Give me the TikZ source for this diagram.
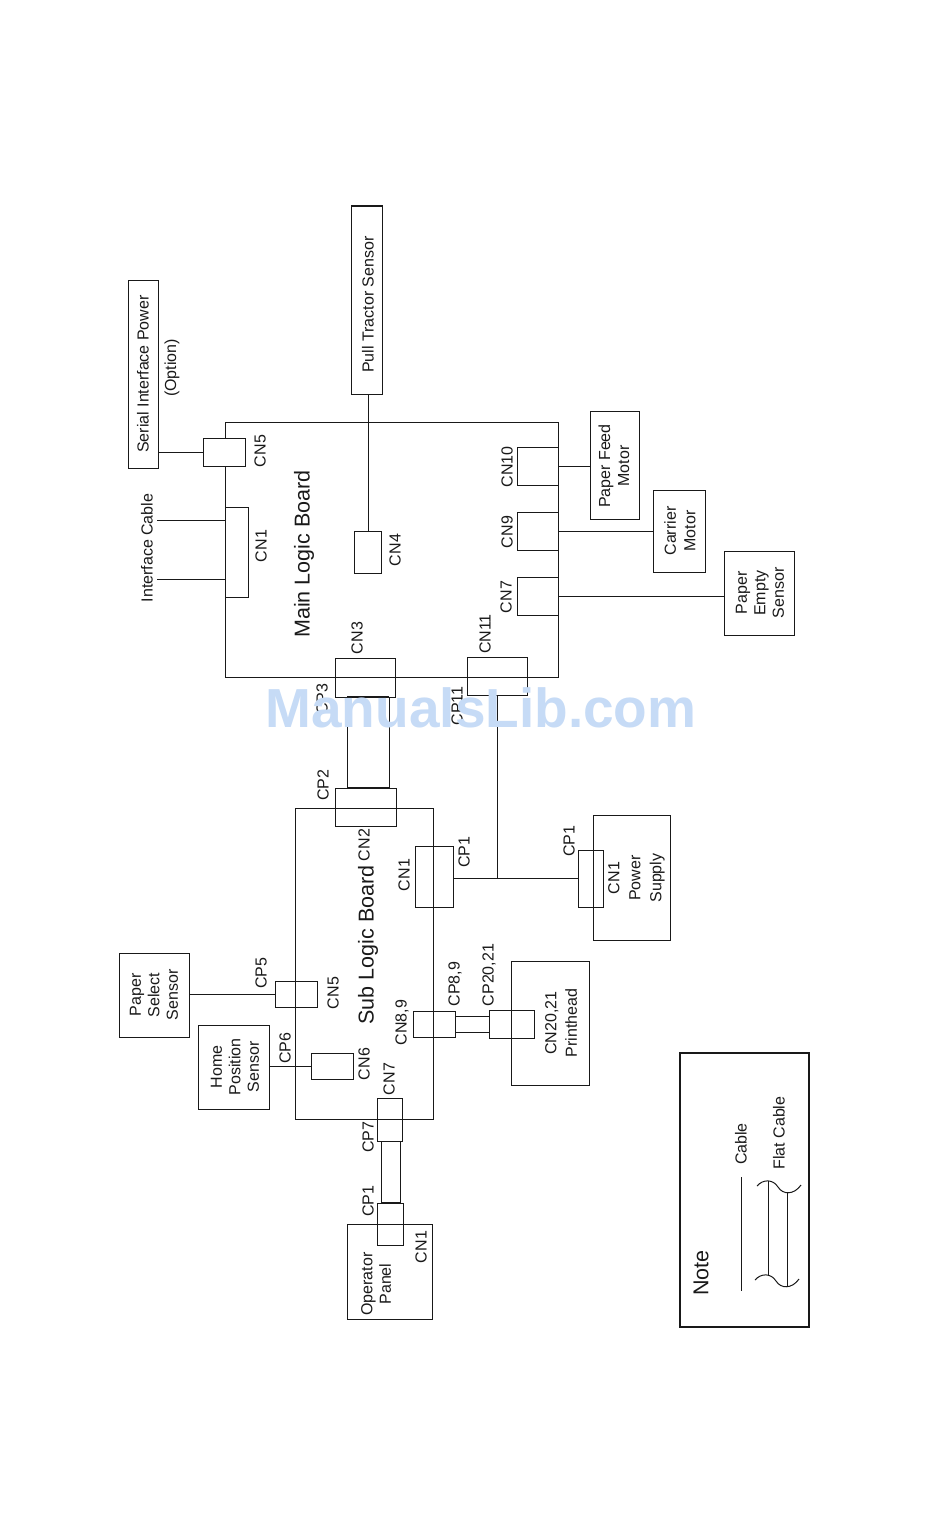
\documentclass[tikz,border=0pt]{standalone}
\usepackage{fontspec}
\setmainfont{Liberation Sans}
\definecolor{wm}{HTML}{C6DBF6}
\newcommand\bx[6][]{\node[boxn,#1,minimum width={(#4-#2)*1pt},minimum height={(#5-#3)*1pt},anchor=north west] (#6) at (#2,#3) {};}
\newcommand\lb[4][]{\node[lab,#1] (#2) at (#3) {#4};}
\begin{document}
\begin{tikzpicture}[x=1pt,y=-1pt,
 boxn/.style={draw=black!90,line width=1pt,inner sep=0pt,outer sep=0pt},
 lab/.style={rotate=90,font=\fontsize{16}{18.5}\selectfont,text=black!90,align=center,inner sep=0pt},
 big/.style={font=\fontsize{21.5}{24}\selectfont},
 wire/.style={draw=black!90,line width=1pt},
 flat/.style={draw=black!90,line width=1pt}]
\useasboundingbox (0,0) rectangle (950,1525);
\fill[white] (0,0) rectangle (950,1525);
% boxes
\bx{128.5}{280}{158.5}{468}{serial}
\bx{351.5}{206}{382}{394}{pull}
\bx{225}{422}{558}{677}{main}
\bx[fill=white]{203}{438}{245}{466}{mcnv}
\bx{225}{507}{248}{597}{mcna}
\bx{354}{531}{381}{573}{mcnb}
\bx{517}{447}{558}{485}{mcnj}
\bx{517}{512}{558}{550}{mcni}
\bx{517}{577}{558}{615}{mcnh}
\bx{590}{411}{639}{519}{feed}
\bx{653}{490}{705}{572}{carrier}
\bx{724}{551}{794}{635}{empty}
\bx{335}{658}{395}{697}{mcnc}
\bx{467}{657}{527}{695}{mcnk}
\bx{295}{808}{433}{1119}{sub}
\bx{335}{788}{396}{826}{scp}
\bx{415}{846}{453}{907}{scna}
\bx{593}{815}{670}{940}{power}
\bx{578}{850}{603}{907}{pcn}
\bx{119}{953}{189}{1037}{select}
\bx{275}{981}{317}{1007}{scne}
\bx{198}{1025}{269}{1109}{home}
\bx{311}{1053}{353}{1079}{scnf}
\bx{413}{1011}{455}{1037}{scnh}
\bx{511}{961}{589}{1085}{print}
\bx{489}{1010}{534}{1038}{pcp}
\bx{347}{1224}{432}{1319}{oper}
\bx{377}{1098}{402}{1141}{scng}
\bx{377}{1203}{403}{1245}{ocp}
\bx[line width=2pt]{680}{1053}{809}{1327}{note}
% connectors
\draw[wire] (serial.east |- mcnv.west) -- (mcnv.west);
\coordinate (ifa) at (157,520); \coordinate (ifb) at (157,579);
\draw[wire] (ifa) -- (ifa -| mcna.west);
\draw[wire] (ifb) -- (ifb -| mcna.west);
\draw[wire] (pull.south) ++(1.5,0) coordinate (pt) -- (pt |- mcnb.north);
\draw[wire] (mcnj.east) -- (mcnj.east -| feed.west);
\draw[wire] (mcni.east) -- (mcni.east -| carrier.west);
\draw[wire] (mcnh.east) -- (mcnh.east -| empty.west);
\coordinate (fa) at (347,697); \coordinate (fb) at (389,697);
\draw[flat] (fa) -- (fa |- scp.north);
\draw[flat] (fb) -- (fb |- scp.north);
\draw[line width=2pt,black!90] (fa) -- (fb) (fa |- scp.north) -- (fb |- scp.north);
\coordinate (tj) at (497,878);
\draw[wire] (mcnk.south -| tj) -- (tj);
\draw[wire] (scna.east |- tj) -- (pcn.west |- tj);
\draw[wire] (select.east |- scne.west) -- (scne.west);
\draw[wire] (home.east |- scnf.west) -- (scnf.west);
\coordinate (ga) at (455,1016); \coordinate (gb) at (455,1032);
\draw[flat] (ga) -- (ga -| pcp.west);
\draw[flat] (gb) -- (gb -| pcp.west);
\coordinate (ha) at (381,1141); \coordinate (hb) at (400,1141);
\draw[flat] (ha) -- (ha |- ocp.north);
\draw[flat] (hb) -- (hb |- ocp.north);
\draw[line width=2pt,black!90] (ha |- ocp.north) -- (hb |- ocp.north);
% note legend
\coordinate (lc) at (741,1177);
\draw[wire] (lc) -- (741,1291);
\coordinate (n1) at (768,1181); \coordinate (n2) at (787,1193);
\coordinate (n3) at (768,1275); \coordinate (n4) at (787,1287);
\draw[wire] (n1) -- (n3) (n2) -- (n4);
\draw[wire] (757,1186) .. controls (763,1179) and (773,1179) .. (778,1187) .. controls (783,1195) and (794,1195) .. (801,1185);
\draw[wire] (755,1280) .. controls (761,1273) and (771,1273) .. (776,1281) .. controls (781,1289) and (792,1289) .. (799,1279);
% labels
\lb{tserial}{143,374}{Serial Interface Power}
\lb{topt}{172,368}{(Option)}
\lb{tpull}{368,304.5}{Pull Tractor Sensor}
\lb{tif}{147,548}{Interface Cable}
\lb{tcn5}{260,451}{CN5}
\lb{tcn1}{261,546}{CN1}
\lb[big]{tmain}{304,554}{Main Logic Board}
\lb{tcn4}{395,550}{CN4}
\lb{tcn10}{507,467}{CN10}
\lb{tcn9}{507,532}{CN9}
\lb{tcn7}{506,597}{CN7}
\lb{tfeed}{614,466}{Paper Feed\\[0.5pt]Motor}
\lb{tcar}{680,531}{Carrier\\[1pt]Motor}
\lb{temp}{760,593}{Paper\\Empty\\Sensor}
\lb{tcn3}{357,638}{CN3}
\lb{tcn11}{485,634}{CN11}
\lb{tcp3}{322,699}{CP3}
\lb{tcp11}{457,706}{CP11}
\lb{tcp2}{323,785}{CP2}
\lb{tcn2}{364,845}{CN2}
\lb{tcna}{404,875}{CN1}
\lb{tcpa}{464,852}{CP1}
\lb{tcpb}{569,841}{CP1}
\lb{tps}{636.5,878}{CN1\\[2.5pt]Power\\[2.5pt]Supply}
\lb[big]{tsub}{368,945}{Sub Logic Board}
\lb{tsel}{154,995}{Paper\\Select\\Sensor}
\lb{tcp5}{261,973}{CP5}
\lb{tcn5s}{333,993}{CN5}
\lb{thome}{235,1067}{Home\\Position\\Sensor}
\lb{tcp6}{285,1048}{CP6}
\lb{tcn6}{364,1064}{CN6}
\lb{tcn8}{402,1022.5}{CN8,9}
\lb{tcp8}{455,984}{CP8,9}
\lb{tcp20}{489,975}{CP20,21}
\lb{tpr}{561,1023}{CN20,21\\[2pt]Printhead}
\lb{tcn7s}{389,1079}{CN7}
\lb{tcp7}{368,1137}{CP7}
\lb{tcpo}{368,1201}{CP1}
\lb{tcno}{421,1247}{CN1}
\lb{top}{376,1284}{Operator\\Panel}
\lb{tcab}{741,1144}{Cable}
\lb{tflat}{779,1133}{Flat Cable}
\lb[big]{tnote}{701,1273}{Note}
% watermark
\node[font=\bfseries\fontsize{55}{60}\selectfont,text=wm,inner sep=0pt] (wmk) at (481,708) {ManualsLib.com};
\end{tikzpicture}
\end{document}
